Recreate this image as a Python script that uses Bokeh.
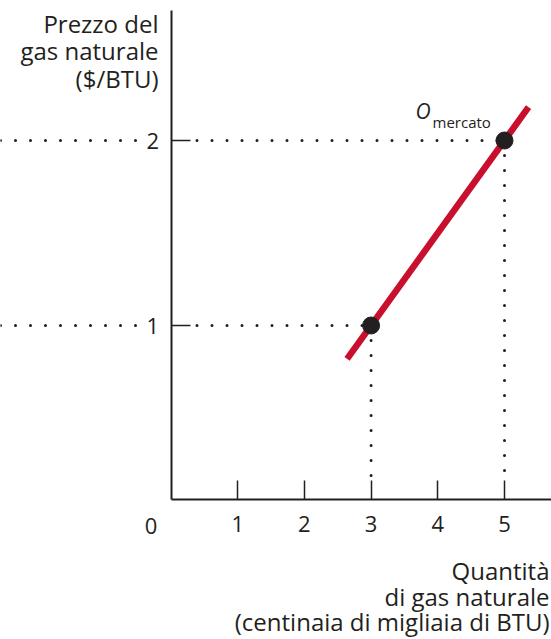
from bokeh.plotting import figure
from bokeh.models import Range1d, LinearAxis, FixedTicker
from bokeh.core.properties import value
from bokeh.embed import file_html
from bokeh.resources import INLINE

# ---------------- data ----------------
x_ticks = [1, 2, 3, 4, 5]
y_ticks = [1, 2]
supply_q = [2.64, 5.36]          # offer curve end points (quantity)
supply_p = [0.82, 2.18]          # offer curve end points (price)
point_q = [3, 5]                 # highlighted points
point_p = [1, 2]
point_name = "O"
point_sub = "mercato"
origin_label = "0"
y_title = ["Prezzo del", "gas naturale", "($/BTU)"]
x_title = ["Quantità", "di gas naturale", "(centinaia di migliaia di BTU)"]

# ---------------- layout ----------------
W, H = 551, 639
PX_X = 66.7       # pixels per unit of quantity
PX_Y = 185.0      # pixels per unit of price
X_START = -170.5 / PX_X
Y_END = 510.0 / PX_Y
X_END = X_START + W / PX_X
Y_START = Y_END - H / PX_Y
AXIS_Y = 10.7 / PX_Y   # level of the horizontal axis
AXIS_TOP = 500.0 / PX_Y

FONT = "Open Sans"
INK = "#231f20"
RED = "#c8102e"


def dx(px):
    return px / PX_X


def dy(px):
    return px / PX_Y


p = figure(width=W, height=H, output_backend="svg", toolbar_location=None,
           x_range=Range1d(X_START, X_END), y_range=Range1d(Y_START, Y_END),
           x_axis_location=None, y_axis_location=None, min_border=0)
p.outline_line_color = None
p.background_fill_color = "white"
p.border_fill_color = "white"
for g in p.grid:
    g.visible = False

xaxis = LinearAxis(fixed_location=AXIS_Y, ticker=FixedTicker(ticks=x_ticks),
                   bounds=(0, X_END))
yaxis = LinearAxis(fixed_location=0, ticker=FixedTicker(ticks=y_ticks),
                   bounds=(AXIS_Y, AXIS_TOP))
for ax in (xaxis, yaxis):
    ax.axis_line_color = INK
    ax.axis_line_width = 2
    ax.major_tick_line_color = INK
    ax.major_tick_line_width = 1.5
    ax.major_tick_in = 19
    ax.major_tick_out = 0
    ax.minor_tick_line_color = None
    ax.major_label_text_font = FONT
    ax.major_label_text_font_size = "22px"
    ax.major_label_text_color = INK
xaxis.major_label_standoff = 16
yaxis.major_label_standoff = 12
p.add_layout(xaxis, "below")
p.add_layout(yaxis, "left")

# dotted guide lines
for q, pr in zip(point_q, point_p):
    # left of the axis (gap for the tick label)
    p.segment(x0=[X_START], y0=[pr], x1=[-dx(33)], y1=[pr], line_color=INK,
              line_width=3, line_dash="0 15", line_cap="round")
    # right of the tick, up to the point
    p.segment(x0=[dx(26)], y0=[pr], x1=[q], y1=[pr], line_color=INK,
              line_width=3, line_dash="0 15", line_cap="round")
    # vertical, from the point down to the tick
    p.segment(x0=[q], y0=[pr], x1=[q], y1=[AXIS_Y + dy(24)], line_color=INK,
              line_width=3, line_dash="0 15", line_cap="round")

# curve
p.line(supply_q, supply_p, line_color=RED, line_width=6.5, line_cap="butt")

# points
p.scatter(point_q, point_p, size=17, fill_color=INK, line_color=INK)

# point label (O_mercato) next to the upper point
p.text(x=[point_q[1]], y=[point_p[1]], text=[point_name], x_offset=-89, y_offset=-30,
       text_font=value(FONT), text_font_size="21px", text_font_style="italic",
       text_color=INK, text_align="left", text_baseline="alphabetic")
p.text(x=[point_q[1]], y=[point_p[1]], text=[point_sub], x_offset=-72, y_offset=-19,
       text_font=value(FONT), text_font_size="15px",
       text_color=INK, text_align="left", text_baseline="alphabetic")

# origin label
p.text(x=[0], y=[AXIS_Y - dy(26)], text=[origin_label], x_offset=-20,
       text_font=value(FONT), text_font_size="22px", text_color=INK,
       text_align="center", text_baseline="alphabetic")

# y-axis title (top-left)
p.text(x=[-dx(12.5)] * 3,
       y=[AXIS_TOP - dy(12.5) - dy(27.5) * i for i in range(3)],
       text=y_title, text_font=value(FONT), text_font_size="24px",
       text_color=INK, text_align="right", text_baseline="alphabetic")

# x-axis title (bottom-right)
p.text(x=[X_END - dx(2)] * 3,
       y=[AXIS_Y - dy(71) - dy(25.5) * i for i in range(3)],
       text=x_title, text_font=value(FONT), text_font_size="24px",
       text_color=INK, text_align="right", text_baseline="alphabetic")

open("out.html", "w").write(file_html(p, INLINE))
